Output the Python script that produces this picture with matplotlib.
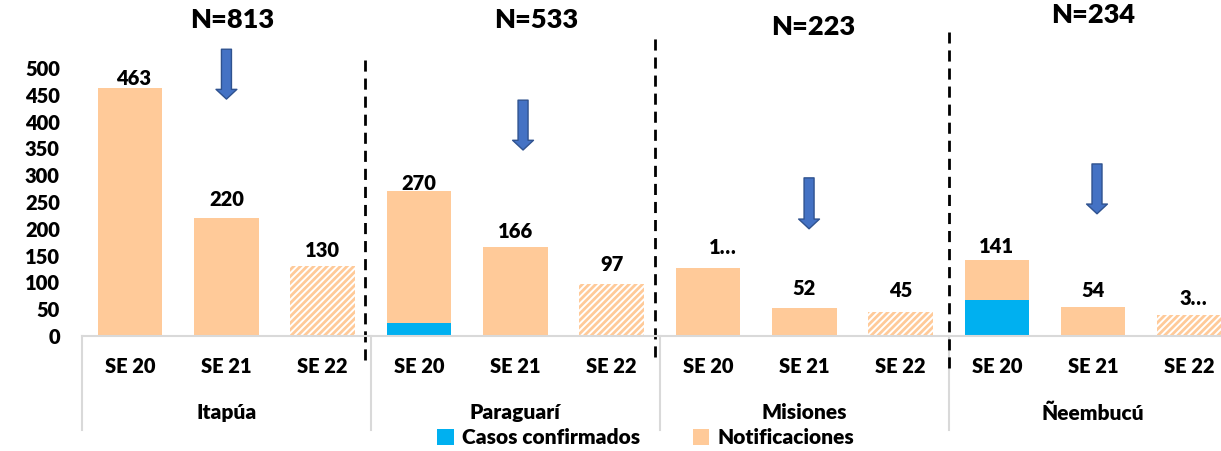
import matplotlib
matplotlib.use("Agg")
import matplotlib.pyplot as plt
import numpy as np
from matplotlib.patches import FancyArrowPatch, Patch
from matplotlib.transforms import blended_transform_factory

plt.rcParams["font.family"] = ["Lato", "DejaVu Sans"]
plt.rcParams["font.weight"] = "heavy"
plt.rcParams["hatch.linewidth"] = 2.0

# data
regions = ["Itapúa", "Paraguarí", "Misiones", "Ñeembucú"]
weeks = ["SE 20", "SE 21", "SE 22"]
totals = [463, 220, 130, 270, 166, 97, 126, 52, 45, 141, 54, 39]
confirmados = [0, 0, 0, 25, 2, 0, 0, 0, 0, 67, 0, 0]
bar_labels = ["463", "220", "130", "270", "166", "97", "1…", "52", "45", "141", "54", "3…"]
n_region = [813, 533, 223, 234]

PEACH = "#FFCA99"
BLUE = "#00B0F0"
ARROW = "#4472C4"
ARROW_EDGE = "#2F528F"
GRID = "#D9D9D9"
FW = "heavy"

W, H = 1221, 451
fig = plt.figure(figsize=(W / 100, H / 100), dpi=100)
ax = fig.add_axes([82 / W, (H - 336) / H, 12 * 96.3 / W, 268 / H])

x = np.arange(len(totals))
totals_a = np.array(totals)
conf_a = np.array(confirmados)
notif_a = totals_a - conf_a
hatched = np.array([i % 3 == 2 for i in x])
bw = 0.67

ax.bar(x[~hatched], conf_a[~hatched], width=bw, color=BLUE, linewidth=0)
ax.bar(x[~hatched], notif_a[~hatched], bottom=conf_a[~hatched], width=bw,
       color=PEACH, linewidth=0)
ax.bar(x[hatched], notif_a[hatched], width=bw, facecolor="white",
       edgecolor=PEACH, hatch="/////", linewidth=0)

# value labels (small nudges as in the original)
dx = [3, 0, 0, 0, 0, 0, 15, 0, 0, 0, 0, 4]
dy = [9, 19, 16, 8, 16, 20, 21, 20, 21, 14, 17, 17]
for i, (t, lab) in enumerate(zip(totals, bar_labels)):
    ax.annotate(lab, (i, t), xytext=(dx[i] * 0.72, dy[i] * 0.72),
                textcoords="offset points", ha="center", va="center",
                fontsize=14.5, fontweight=FW, annotation_clip=False)

ax.set_xlim(-0.5, 11.5)
ax.set_ylim(0, 500)
ax.set_yticks(np.arange(0, 501, 50))
ax.tick_params(axis="y", length=0, pad=16, labelsize=14.5)
ax.set_xticks(x)
ax.set_xticklabels(weeks * 4)
ax.tick_params(axis="x", length=0, pad=15, labelsize=14.5)
for lab in ax.get_xticklabels() + ax.get_yticklabels():
    lab.set_fontweight(FW)
for s in ["top", "right", "left"]:
    ax.spines[s].set_visible(False)
ax.spines["bottom"].set_color(GRID)
ax.spines["bottom"].set_linewidth(1.5)

# multi-level category axis
tr = blended_transform_factory(ax.transData, ax.transAxes)
for b in [-0.5, 2.5, 5.5, 8.5, 11.5]:
    ax.plot([b, b], [0, -0.351], color=GRID, lw=1.5, transform=tr, clip_on=False)
for k, r in enumerate(regions):
    ax.text(3 * k + 1, -0.287, r, transform=tr, ha="center", va="center",
            fontsize=15, fontweight=FW)

# dashed separators
for xs, y0, y1 in [(2.44, -45, 515), (5.45, -39, 567), (8.5, -60, 567)]:
    ax.plot([xs, xs], [y0, y1], color="black", lw=2, ls=(0, (4, 2.5)), clip_on=False)

# N titles
for (xt, yt), n in zip([(1.06, 590), (4.22, 590), (7.09, 576), (10.0, 599)], n_region):
    ax.text(xt, yt, f"N={n}", ha="center", va="center", fontsize=19.5,
            fontweight=FW, clip_on=False)

# down arrows
for xa, ya0, ya1 in [(1.0, 535, 442), (4.08, 440, 347), (7.05, 295, 200), (10.04, 321, 228)]:
    arr = FancyArrowPatch((xa, ya0), (xa, ya1),
                          arrowstyle="simple,head_length=0.7,head_width=1.5,tail_width=0.72",
                          mutation_scale=10, facecolor=ARROW, edgecolor=ARROW_EDGE,
                          lw=1, shrinkA=0, shrinkB=0, clip_on=False)
    ax.add_patch(arr)

handles = [Patch(facecolor=BLUE, label="Casos confirmados"),
           Patch(facecolor=PEACH, label="Notificaciones")]
fig.legend(handles=handles, loc="center", bbox_to_anchor=(0.529, 0.029), ncol=2,
           frameon=False, handlelength=0.8, handleheight=0.8,
           handletextpad=0.4, columnspacing=2.5, borderaxespad=0, borderpad=0,
           prop={"size": 15, "weight": FW})

fig.savefig("out.png", dpi=100)
